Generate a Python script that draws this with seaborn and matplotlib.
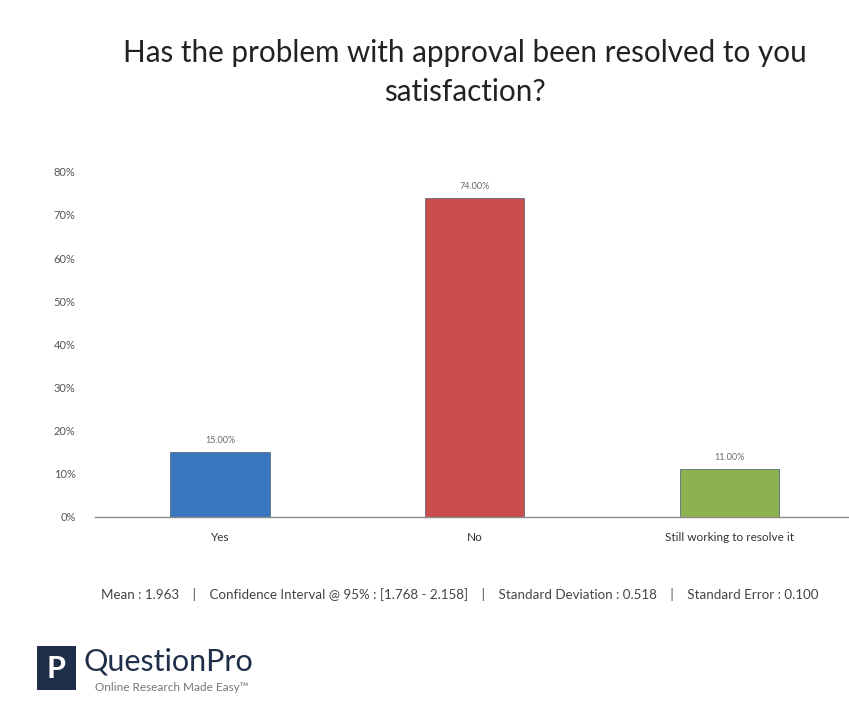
import matplotlib
matplotlib.use("Agg")
import matplotlib.pyplot as plt
import seaborn as sns
import pandas as pd
from matplotlib.patches import Rectangle

# chart data
categories = ["Yes", "No", "Still working to resolve it"]
percents = [15.0, 74.0, 11.0]
bar_colors = ["#3a76bd", "#c84d4b", "#8eb14f"]
y_ticks = [0, 10, 20, 30, 40, 50, 60, 70, 80]
y_tick_labels = ["0%", "10%", "20%", "30%", "40%", "50%", "60%", "70%", "80%"]

title = "Has the problem with approval been resolved to you\nsatisfaction?"
stats_line = ("Mean : 1.963    |    Confidence Interval @ 95% : [1.768 - 2.158]    |    "
              "Standard Deviation : 0.518    |    Standard Error : 0.100")

sns.set_theme(style="white")
plt.rcParams["font.family"] = ["Lato", "DejaVu Sans"]

df = pd.DataFrame({"answer": categories, "pct": percents})

fig = plt.figure(figsize=(8.49, 7.10), dpi=100)
ax = fig.add_axes([0.112, 0.272, 0.888, 0.486])

sns.barplot(data=df, x="answer", y="pct", hue="answer", palette=bar_colors,
            order=categories, hue_order=categories, width=0.39,
            legend=False, ax=ax, saturation=1)

for p in ax.patches:
    p.set_edgecolor("#5a6e80")
    p.set_linewidth(0.6)

# value labels over bars
for c in ax.containers:
    ax.bar_label(c, labels=[f"{v:.2f}%" for v in c.datavalues],
                 padding=5, fontsize=6.5, color="#6a6a6a")

ax.set_xlim(-0.49, 2.47)
ax.set_ylim(0, 80)
ax.set_yticks(y_ticks)
ax.set_yticklabels(y_tick_labels)
ax.tick_params(axis="y", length=0, pad=14, labelsize=8, labelcolor="#555555")
ax.tick_params(axis="x", length=0, pad=11, labelsize=8.5, labelcolor="#333333")
ax.set_xlabel("")
ax.set_ylabel("")
for s in ["top", "right", "left"]:
    ax.spines[s].set_visible(False)
ax.spines["bottom"].set_color("#8a8a8a")
ax.spines["bottom"].set_linewidth(1.0)

fig.text(0.548, 0.898, title, ha="center", va="center", fontsize=21.3,
         color="#222222", linespacing=1.5)

fig.text(0.541, 0.162, stats_line, ha="center", va="center", fontsize=9.6,
         color="#444444")

# QuestionPro logo
logo = fig.add_axes([0.043, 0.028, 0.046, 0.062])
logo.add_patch(Rectangle((0, 0), 1, 1, color="#1f2f4a"))
logo.text(0.5, 0.48, "P", color="white", fontsize=22, fontweight="bold",
          ha="center", va="center")
logo.set_xlim(0, 1)
logo.set_ylim(0, 1)
logo.axis("off")
fig.text(0.098, 0.068, "QuestionPro", fontsize=22, color="#1f2f4a",
         ha="left", va="center")
fig.text(0.112, 0.031, "Online Research Made Easy\u2122", fontsize=8.5,
         color="#777777", ha="left", va="center")

fig.savefig("out.png", dpi=100)
